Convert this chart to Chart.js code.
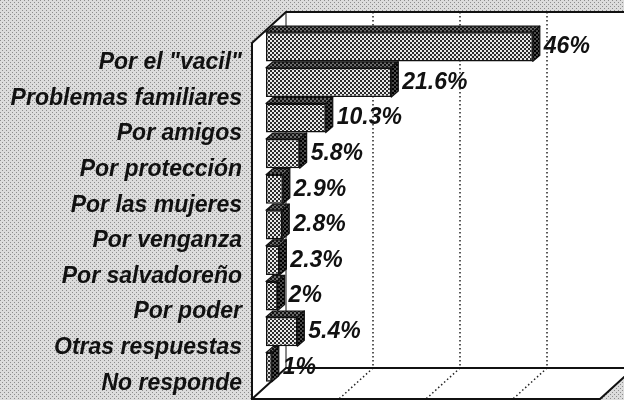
<!DOCTYPE html>
<html>
<head>
<meta charset="utf-8">
<script src="https://cdn.jsdelivr.net/npm/chart.js@4"></script>
<style>
  body { margin: 0; background: #d4d4d4; }
  canvas { display: block; }
</style>
</head>
<body>
<canvas id="grafica" width="624" height="400"></canvas>
<script>
// --- datos ---
const categorias = ['Por el "vacil"', 'Problemas familiares', 'Por amigos', 'Por protección', 'Por las mujeres',
                    'Por venganza', 'Por salvadoreño', 'Por poder', 'Otras respuestas', 'No responde'];
const porcentajes = [46, 21.6, 10.3, 5.8, 2.9, 2.8, 2.3, 2, 5.4, 1];
const etiquetas = ['46%', '21.6%', '10.3%', '5.8%', '2.9%', '2.8%', '2.3%', '2%', '5.4%', '1%'];
const lineasGuia = [15, 30, 45];
const ejeMax = 60;

const canvas = document.getElementById('grafica');
const ctx = canvas.getContext('2d');
const fuente = '"Liberation Sans", Arial, sans-serif';

// tramas tipo periódico
function trama(base, punto, puntos) {
    const c = document.createElement('canvas');
    c.width = 4; c.height = 4;
    const g = c.getContext('2d');
    g.fillStyle = base;
    g.fillRect(0, 0, 4, 4);
    g.fillStyle = punto;
    puntos.forEach(p => g.fillRect(p[0], p[1], p[2], p[2]));
    return ctx.createPattern(c, 'repeat');
}
const tramaFondo = trama('#dcdcdc', '#8c8c8c', [[0, 0, 1], [2, 2, 1]]);
const tramaFrente = trama('#e8e8e8', '#2a2a2a', [[0, 0, 2], [2, 2, 2]]);
const tramaTapa = trama('#6a6a6a', '#111', [[0, 0, 2], [2, 2, 2]]);
const tramaLado = trama('#4a4a4a', '#000', [[0, 0, 2], [2, 2, 2]]);

// profundidad de la caja y de las barras
const cajaDx = 34, cajaDy = 31, fondoDx = 20;
const barraDx = 7, barraDy = 6;

const fondo = {
    id: 'fondo',
    beforeDraw(chart) {
        const c = chart.ctx;
        c.save();
        c.fillStyle = tramaFondo;
        c.fillRect(0, 0, chart.width, chart.height);
        c.restore();
    }
};

// caja 3D: pared del fondo, pared izquierda y piso
const caja = {
    id: 'caja',
    beforeDatasetsDraw(chart) {
        const c = chart.ctx;
        const xs = chart.scales.x;
        const area = chart.chartArea;
        const bx0 = xs.getPixelForValue(0) + fondoDx;
        const bx1 = xs.getPixelForValue(ejeMax) + fondoDx;
        const topY = area.top - 17;
        const pisoY = area.bottom - 17;
        const frenteY = pisoY + cajaDy;
        const fx0 = bx0 - cajaDx;

        c.save();
        c.fillStyle = '#fff';
        c.beginPath();
        c.moveTo(fx0, topY + cajaDy);
        c.lineTo(bx0, topY);
        c.lineTo(bx1, topY);
        c.lineTo(bx1, pisoY);
        c.lineTo(bx1 - cajaDx, frenteY);
        c.lineTo(fx0, frenteY);
        c.closePath();
        c.fill();

        // guías punteadas
        c.strokeStyle = '#222';
        c.lineWidth = 1.5;
        c.setLineDash([1.5, 2.5]);
        lineasGuia.forEach(v => {
            const x = xs.getPixelForValue(v) + fondoDx;
            c.beginPath();
            c.moveTo(x, topY);
            c.lineTo(x, pisoY);
            c.lineTo(x - cajaDx, frenteY);
            c.stroke();
        });
        c.setLineDash([]);

        c.strokeStyle = '#111';
        c.lineWidth = 1;
        c.beginPath();
        c.moveTo(bx0, topY);
        c.lineTo(bx0, pisoY);
        c.stroke();

        c.lineWidth = 2;
        c.beginPath();
        c.moveTo(bx1, topY);
        c.lineTo(bx0, topY);
        c.lineTo(fx0, topY + cajaDy);
        c.lineTo(fx0, frenteY);
        c.lineTo(bx1 - cajaDx, frenteY);
        c.lineTo(bx1, pisoY);
        c.lineTo(bx0, pisoY);
        c.lineTo(fx0, frenteY);
        c.stroke();
        c.restore();
    }
};

// tapa y costado de cada barra, más el porcentaje
const barras3d = {
    id: 'barras3d',
    afterDatasetsDraw(chart) {
        const c = chart.ctx;
        const meta = chart.getDatasetMeta(0);
        c.save();
        c.strokeStyle = '#111';
        c.lineWidth = 1.2;
        c.lineJoin = 'round';
        meta.data.forEach((bar, i) => {
            const arriba = bar.y - bar.height / 2;
            const abajo = bar.y + bar.height / 2;
            const x0 = bar.base, x1 = bar.x;

            c.fillStyle = tramaTapa;
            c.beginPath();
            c.moveTo(x0, arriba);
            c.lineTo(x0 + barraDx, arriba - barraDy);
            c.lineTo(x1 + barraDx, arriba - barraDy);
            c.lineTo(x1, arriba);
            c.closePath();
            c.fill();
            c.stroke();

            c.fillStyle = tramaLado;
            c.beginPath();
            c.moveTo(x1, arriba);
            c.lineTo(x1 + barraDx, arriba - barraDy);
            c.lineTo(x1 + barraDx, abajo - barraDy);
            c.lineTo(x1, abajo);
            c.closePath();
            c.fill();
            c.stroke();

            c.fillStyle = '#111';
            c.font = 'italic bold 23px ' + fuente;
            c.textAlign = 'left';
            c.textBaseline = 'middle';
            c.fillText(etiquetas[i], x1 + barraDx + 4, bar.y);
        });
        c.restore();
    }
};

new Chart(ctx, {
    type: 'bar',
    data: {
        labels: categorias,
        datasets: [{
            data: porcentajes,
            backgroundColor: tramaFrente,
            borderColor: '#111',
            borderWidth: 1.5,
            borderSkipped: false,
            barPercentage: 0.82,
            categoryPercentage: 1
        }]
    },
    options: {
        indexAxis: 'y',
        responsive: false,
        animation: false,
        layout: { padding: { top: 29, bottom: 15, right: 10, left: 0 } },
        plugins: { legend: { display: false }, tooltip: { enabled: false } },
        scales: {
            x: { display: false, min: 0, max: ejeMax },
            y: {
                grid: { display: false, drawTicks: false },
                border: { display: false },
                afterFit: s => {
                    s.width = 266;
                    s.paddingTop = 0;
                    s.paddingBottom = 0;
                },
                ticks: {
                    color: '#111',
                    padding: 24,
                    labelOffset: 16,
                    font: { family: fuente, size: 23, weight: 'bold', style: 'italic' }
                }
            }
        }
    },
    plugins: [fondo, caja, barras3d]
});
</script>
</body>
</html>
